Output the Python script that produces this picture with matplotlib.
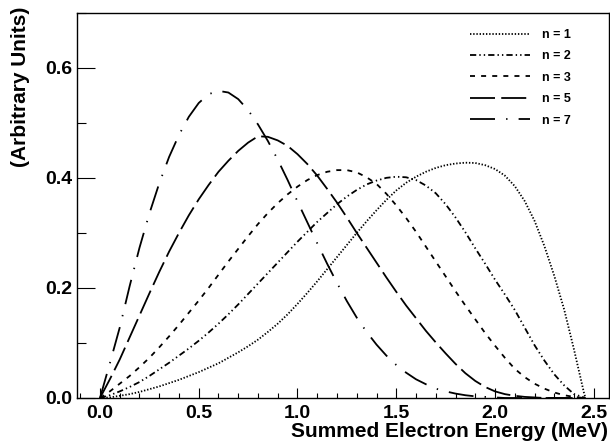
import matplotlib
matplotlib.use("Agg")
from matplotlib import pyplot as plt
from matplotlib.ticker import MultipleLocator

plt.rcParams['font.family'] = ['Liberation Sans', 'DejaVu Sans']
plt.rcParams['font.weight'] = 'bold'
plt.rcParams['lines.scale_dashes'] = False

# summed electron energy (MeV)
energy = [0.0, 0.05, 0.1, 0.15, 0.2, 0.25, 0.3, 0.35, 0.4, 0.45, 0.5,
          0.55, 0.6, 0.65, 0.7, 0.75, 0.8, 0.85, 0.9, 0.95, 1.0,
          1.05, 1.1, 1.15, 1.2, 1.25, 1.3, 1.35, 1.4, 1.45, 1.5,
          1.55, 1.6, 1.65, 1.7, 1.75, 1.8, 1.85, 1.9, 1.95, 2.0,
          2.05, 2.1, 2.15, 2.2, 2.25, 2.3, 2.35, 2.4, 2.45, 2.458]

n1 = [0.0, 0.001, 0.004, 0.007, 0.011, 0.016, 0.021, 0.027, 0.033, 0.040, 0.047,
      0.055, 0.063, 0.073, 0.083, 0.094, 0.106, 0.120, 0.135, 0.152, 0.171,
      0.191, 0.212, 0.234, 0.256, 0.278, 0.300, 0.321, 0.341, 0.360, 0.377,
      0.391, 0.402, 0.411, 0.418, 0.423, 0.426, 0.4275, 0.427, 0.423, 0.416,
      0.404, 0.385, 0.358, 0.322, 0.276, 0.222, 0.161, 0.088, 0.010, 0.0]

n2 = [0.0, 0.005, 0.012, 0.020, 0.029, 0.040, 0.052, 0.064, 0.077, 0.090, 0.104,
      0.119, 0.135, 0.152, 0.170, 0.189, 0.208, 0.227, 0.246, 0.265, 0.284,
      0.302, 0.320, 0.336, 0.352, 0.366, 0.378, 0.388, 0.395, 0.400, 0.402,
      0.401, 0.396, 0.386, 0.372, 0.352, 0.328, 0.301, 0.272, 0.244, 0.215,
      0.188, 0.160, 0.128, 0.096, 0.068, 0.043, 0.023, 0.007, 0.001, 0.0]

n3 = [0.0, 0.012, 0.026, 0.040, 0.056, 0.073, 0.092, 0.112, 0.133, 0.155, 0.177,
      0.200, 0.224, 0.248, 0.271, 0.294, 0.316, 0.336, 0.354, 0.370, 0.384,
      0.396, 0.405, 0.411, 0.414, 0.414, 0.410, 0.401, 0.389, 0.371, 0.350,
      0.327, 0.302, 0.275, 0.248, 0.221, 0.194, 0.168, 0.143, 0.118, 0.095,
      0.073, 0.053, 0.038, 0.026, 0.017, 0.010, 0.005, 0.002, 0.0, 0.0]

n5 = [0.0, 0.034, 0.070, 0.110, 0.150, 0.190, 0.229, 0.266, 0.300, 0.332, 0.361,
      0.387, 0.411, 0.431, 0.449, 0.464, 0.4755, 0.4745, 0.468, 0.458, 0.443,
      0.425, 0.404, 0.380, 0.355, 0.328, 0.300, 0.273, 0.246, 0.219, 0.193,
      0.168, 0.145, 0.122, 0.101, 0.081, 0.062, 0.045, 0.031, 0.020, 0.012,
      0.007, 0.004, 0.002, 0.001, 0.0, 0.0, 0.0, 0.0, 0.0, 0.0]

n7 = [0.0, 0.063, 0.128, 0.203, 0.273, 0.335, 0.390, 0.438, 0.478, 0.511, 0.536,
      0.552, 0.558, 0.555, 0.543, 0.523, 0.497, 0.467, 0.433, 0.396, 0.357,
      0.319, 0.281, 0.244, 0.209, 0.176, 0.146, 0.120, 0.097, 0.077, 0.060,
      0.046, 0.034, 0.025, 0.017, 0.012, 0.008, 0.005, 0.003, 0.002, 0.001,
      0.0, 0.0, 0.0, 0.0, 0.0, 0.0, 0.0, 0.0, 0.0, 0.0]

labels = ["n = 1", "n = 2", "n = 3", "n = 5", "n = 7"]
series = [n1, n2, n3, n5, n7]
styles = [(0, (1.0, 1.3)),
          (0, (4.5, 2.2, 1.0, 2.2, 1.0, 2.2)),
          (0, (3.6, 4.4)),
          (0, (18, 4.5)),
          (0, (18, 8, 1, 8))]

fig = plt.figure(figsize=(6.1, 4.43), dpi=100)
ax = fig.add_axes([0.1257, 0.1016, 0.998 - 0.1257, 0.9713 - 0.1016])

for y, ls, lab in zip(series, styles, labels):
    ax.plot(energy, y, color="black", lw=1.3, linestyle=ls, label=lab)

ax.set_xlim(-0.118, 2.576)
ax.set_ylim(0, 0.70)

ax.xaxis.set_major_locator(MultipleLocator(0.5))
ax.xaxis.set_minor_locator(MultipleLocator(0.1))
ax.yaxis.set_major_locator(MultipleLocator(0.2))
ax.yaxis.set_minor_locator(MultipleLocator(0.1))
ax.xaxis.set_major_formatter(lambda v, p: "%.1f" % v)
ax.yaxis.set_major_formatter(lambda v, p: "%.1f" % v)

ax.tick_params(axis="both", which="both", direction="in", top=False, right=False,
               labelsize=14, colors="black")
ax.tick_params(axis="x", which="major", length=7, width=0.8, pad=5)
ax.tick_params(axis="x", which="minor", length=3.5, width=0.8)
ax.tick_params(axis="y", which="major", length=13, width=0.8, pad=3)
ax.tick_params(axis="y", which="minor", length=6.5, width=0.8)
for lbl in ax.get_xticklabels() + ax.get_yticklabels():
    lbl.set_fontweight("bold")

for s in ax.spines.values():
    s.set_linewidth(1.0)

fig.text(0.996, 0.025, "Summed Electron Energy (MeV)", ha="right", va="center",
         fontsize=15, fontweight="bold")
fig.text(0.033, 0.985, "(Arbitrary Units)", ha="center", va="top", rotation=90,
         fontsize=15, fontweight="bold")

ax.legend(loc="upper left", bbox_to_anchor=(470 / 610, 1 - 29 / 443),
          bbox_transform=fig.transFigure, frameon=False, borderpad=0,
          borderaxespad=0, handlelength=4.8, handletextpad=1.0,
          labelspacing=0.75, prop={"size": 9, "weight": "bold"})

plt.savefig("out.png", dpi=100)
